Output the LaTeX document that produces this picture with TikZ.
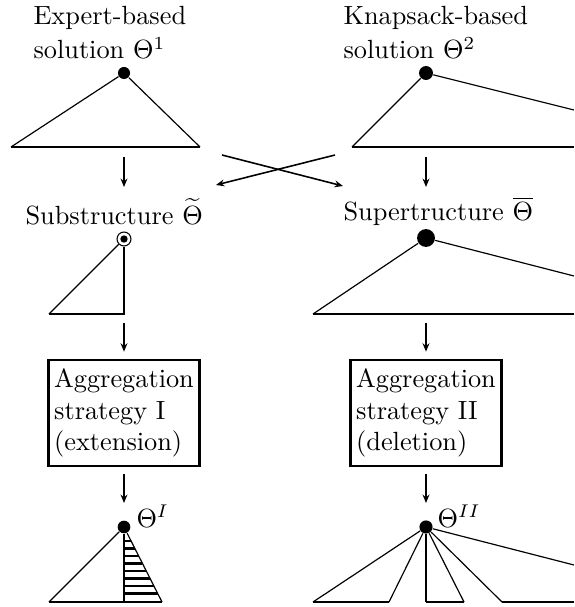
\documentclass[tikz,border=0pt]{standalone}
\usetikzlibrary{arrows.meta}

\begin{document}
\begin{tikzpicture}[x=0.38pt,y=-0.38pt,
  branch/.style={line width=0.45pt},
  groundline/.style={line width=1pt},
  hatchline/.style={line width=0.9pt},
  rootdot/.style={circle,fill,inner sep=0pt,minimum size=#1},
  flow/.style={-{Stealth[length=3.2pt,width=2.6pt]},line width=0.6pt},
  flowthick/.style={flow,line width=1pt},
  lab/.style={inner sep=0pt},
  aggbox/.style={draw,line width=0.9pt,align=left,inner sep=0pt,minimum width=57.4pt,minimum height=40.3pt}]
\useasboundingbox (0,0) rectangle (574,607);
% first row
\node[lab,anchor=north west,align=left] (head1) at (33,6) {Expert-based\\[1pt]solution $\Theta^1$};
\node[lab,anchor=north west,align=left] (head2) at (343,6) {Knapsack-based\\[1pt]solution $\Theta^2$};
\node[rootdot=4.6pt] (r1) at (124,73) {};
\coordinate (r1l) at (11,147); \coordinate (r1r) at (200,147);
\draw[branch] (r1l) -- (r1) -- (r1r);
\draw[groundline] (r1l) -- (r1r);
\node[rootdot=5.3pt] (r2) at (426,73) {};
\coordinate (r2l) at (352,147); \coordinate (r2r) at (574,110); \coordinate (r2e) at (574,147);
\draw[branch] (r2l) -- (r2) -- (r2r);
\draw[groundline] (r2l) -- (r2e);
% arrows to second row
\coordinate (a1) at (124,157); \coordinate (b1) at (124,187);
\coordinate (a2) at (426,157); \coordinate (b2) at (426,187);
\coordinate (c1) at (222,155); \coordinate (e1) at (343,186);
\coordinate (c2) at (335,155); \coordinate (e2) at (216,185);
\draw[flow] (a1) -- (b1);
\draw[flowthick] (a2) -- (b2);
\draw[flow] (c1) -- (e1);
\draw[flow] (c2) -- (e2);
% second row
\node[lab,anchor=base west] (sub) at (25,224) {Substructure $\widetilde{\Theta}$};
\node[lab,anchor=base west] (sup) at (343,220) {Supertructure $\overline{\Theta}$};
\node[circle,draw,line width=0.4pt,inner sep=0pt,minimum size=5.3pt] (s) at (124,239) {};
\node[rootdot=2.8pt] (sc) at (s) {};
\coordinate (sl) at (49,314); \coordinate (sr) at (124,314);
\draw[branch] (s) -- (sl);
\draw[groundline] (s) -- (sr) -- (sl);
\node[rootdot=6.8pt] (p) at (426,238) {};
\coordinate (pl) at (313,314); \coordinate (pr) at (574,276); \coordinate (pe) at (574,314);
\draw[branch] (pl) -- (p) -- (pr);
\draw[groundline] (pl) -- (pe);
% aggregation
\node[aggbox] (agg1) at (124,413) {Aggregation\\strategy I\\(extension)};
\node[aggbox] (agg2) at (426,413) {Aggregation\\strategy II\\(deletion)};
\coordinate (g1) at (124,323); \coordinate (g2) at (426,323);
\draw[flow,shorten >=2.7pt] (g1) -- (agg1.north);
\draw[flowthick,shorten >=2.7pt] (g2) -- (agg2.north);
\coordinate (h1) at (124,503); \coordinate (h2) at (426,503);
\draw[flow,shorten <=2.7pt] (agg1.south) -- (h1);
\draw[flowthick,shorten <=2.7pt] (agg2.south) -- (h2);
% results
\node[rootdot=4.8pt] (q1) at (124,527) {};
\node[lab,anchor=base west] (res1) at (136,527) {$\Theta^I$};
\coordinate (q1l) at (49,602); \coordinate (q1m) at (124,602); \coordinate (q1r) at (162,602);
\draw[branch] (q1l) -- (q1) -- (q1r);
\draw[groundline] (q1) -- (q1m);
\draw[groundline] (q1l) -- (q1r);
\foreach \y in {541,548.5,...,594}
  \draw[hatchline] (124,\y) -- ({124+(\y-527)*38/75},\y);
\node[rootdot=5pt] (q2) at (426,527) {};
\node[lab,anchor=base west] (res2) at (437,527) {$\Theta^{II}$};
\coordinate (t1) at (313,602); \coordinate (t2) at (389,602);
\coordinate (t3) at (426,602); \coordinate (t4) at (464,602);
\coordinate (t5) at (502,602); \coordinate (t6) at (574,602);
\coordinate (t7) at (574,565);
\foreach \t in {t1,t2,t4,t5,t7}
  \draw[branch] (q2) -- (\t);
\draw[groundline] (q2) -- (t3);
\draw[groundline] (t1) -- (t2) (t3) -- (t4) (t5) -- (t6);
\end{tikzpicture}
\end{document}
